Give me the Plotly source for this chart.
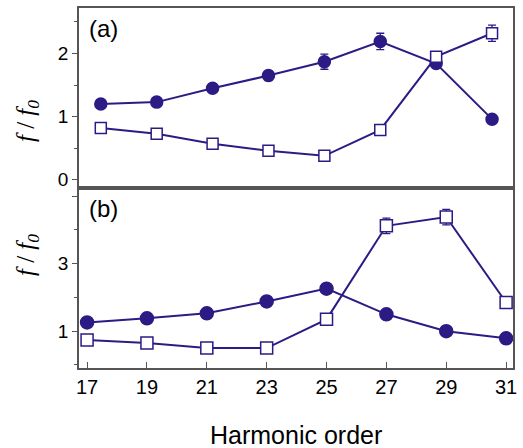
import plotly.graph_objects as go

harmonic = [17, 19, 21, 23, 25, 27, 29, 31]

a_circle = [1.20, 1.23, 1.45, 1.65, 1.87, 2.19, 1.84, 0.96]
a_circle_err = [0.04, 0.04, 0.05, 0.08, 0.12, 0.13, 0.07, 0.03]
a_square = [0.82, 0.73, 0.57, 0.46, 0.38, 0.79, 1.95, 2.32]
a_square_err = [0.03, 0.03, 0.03, 0.03, 0.03, 0.03, 0.07, 0.13]

b_circle = [1.26, 1.38, 1.53, 1.88, 2.26, 1.50, 1.00, 0.79]
b_circle_err = [0.03, 0.03, 0.03, 0.03, 0.03, 0.03, 0.03, 0.03]
b_square = [0.74, 0.65, 0.50, 0.50, 1.35, 4.12, 4.38, 1.85]
b_square_err = [0.03, 0.03, 0.03, 0.03, 0.03, 0.23, 0.23, 0.03]

C = "#2c1b84"
FRAME = "#555555"

fig = go.Figure()

def add(x, y, err, sym, xa, ya, size):
    filled = sym == "circle"
    fig.add_trace(go.Scatter(
        x=x, y=y, xaxis=xa, yaxis=ya, mode="lines+markers",
        line=dict(color=C, width=2),
        marker=dict(symbol=sym, size=size, color=C if filled else "white",
                    line=dict(color=C, width=1.5)),
        error_y=dict(type="data", array=err, color=C, thickness=1.3, width=4),
        showlegend=False, cliponaxis=False))

add(harmonic, a_circle, a_circle_err, "circle", "x", "y", 12)
add(harmonic, a_square, a_square_err, "square", "x", "y", 11)
add(harmonic, b_circle, b_circle_err, "circle", "x2", "y2", 13)
add(harmonic, b_square, b_square_err, "square", "x2", "y2", 12)

axis_common = dict(showline=True, mirror=True, linecolor=FRAME, linewidth=1.5,
                   showgrid=False, zeroline=False)
tickfont = dict(family="Liberation Sans, Arial, sans-serif", size=19, color="black")

fig.update_layout(
    width=523, height=448,
    margin=dict(l=79, r=7, t=6, b=80),
    plot_bgcolor="white", paper_bgcolor="white",
    xaxis=dict(domain=[0, 1], anchor="y", range=[16.22, 31.75],
               showticklabels=False, ticks="", **axis_common),
    yaxis=dict(domain=[0.5, 1], anchor="x", range=[-0.13, 2.72],
               tickvals=[0, 1, 2], ticks="outside", ticklen=5, tickcolor=FRAME,
               tickfont=tickfont,
               minor=dict(tickvals=[0.5, 1.5, 2.5], ticks="outside", ticklen=3, tickcolor=FRAME),
               **axis_common),
    xaxis2=dict(domain=[0, 1], anchor="y2", range=[16.73, 31.23],
                tickvals=harmonic, ticks="inside", ticklen=6, tickcolor=FRAME,
                tickfont=dict(family="Liberation Sans, Arial, sans-serif", size=20, color="black"),
                **axis_common),
    yaxis2=dict(domain=[0, 0.5], anchor="x2", range=[-0.09, 5.24],
                tickvals=[1, 3, 5], ticktext=["1", "3", ""], ticks="outside", ticklen=5,
                tickcolor=FRAME, tickfont=tickfont,
                minor=dict(tickvals=[0, 2, 4], ticks="outside", ticklen=3, tickcolor=FRAME),
                **axis_common),
)

ytitle = "<i>f</i> / <i>f</i><sub><i>0</i></sub>"
for yc in [0.75, 0.25]:
    fig.add_annotation(xref="paper", yref="paper", x=-0.16, y=yc, text=ytitle,
                       textangle=-90, showarrow=False,
                       font=dict(family="Liberation Serif, Times New Roman, serif", size=25, color="black"))

fig.add_annotation(xref="paper", yref="paper", x=0.018, y=0.985, xanchor="left", yanchor="top",
                   text="(a)", showarrow=False,
                   font=dict(family="Liberation Sans, Arial, sans-serif", size=24, color="black"))
fig.add_annotation(xref="paper", yref="paper", x=0.018, y=0.485, xanchor="left", yanchor="top",
                   text="(b)", showarrow=False,
                   font=dict(family="Liberation Sans, Arial, sans-serif", size=24, color="black"))
fig.add_annotation(xref="paper", yref="paper", x=0.5, y=-0.185, yanchor="middle",
                   text="Harmonic order", showarrow=False,
                   font=dict(family="Liberation Sans, Arial, sans-serif", size=25, color="black"))

fig.write_html("out.html", config={"displayModeBar": False},
               post_script="document.body.style.margin='0';document.body.style.padding='0';")
